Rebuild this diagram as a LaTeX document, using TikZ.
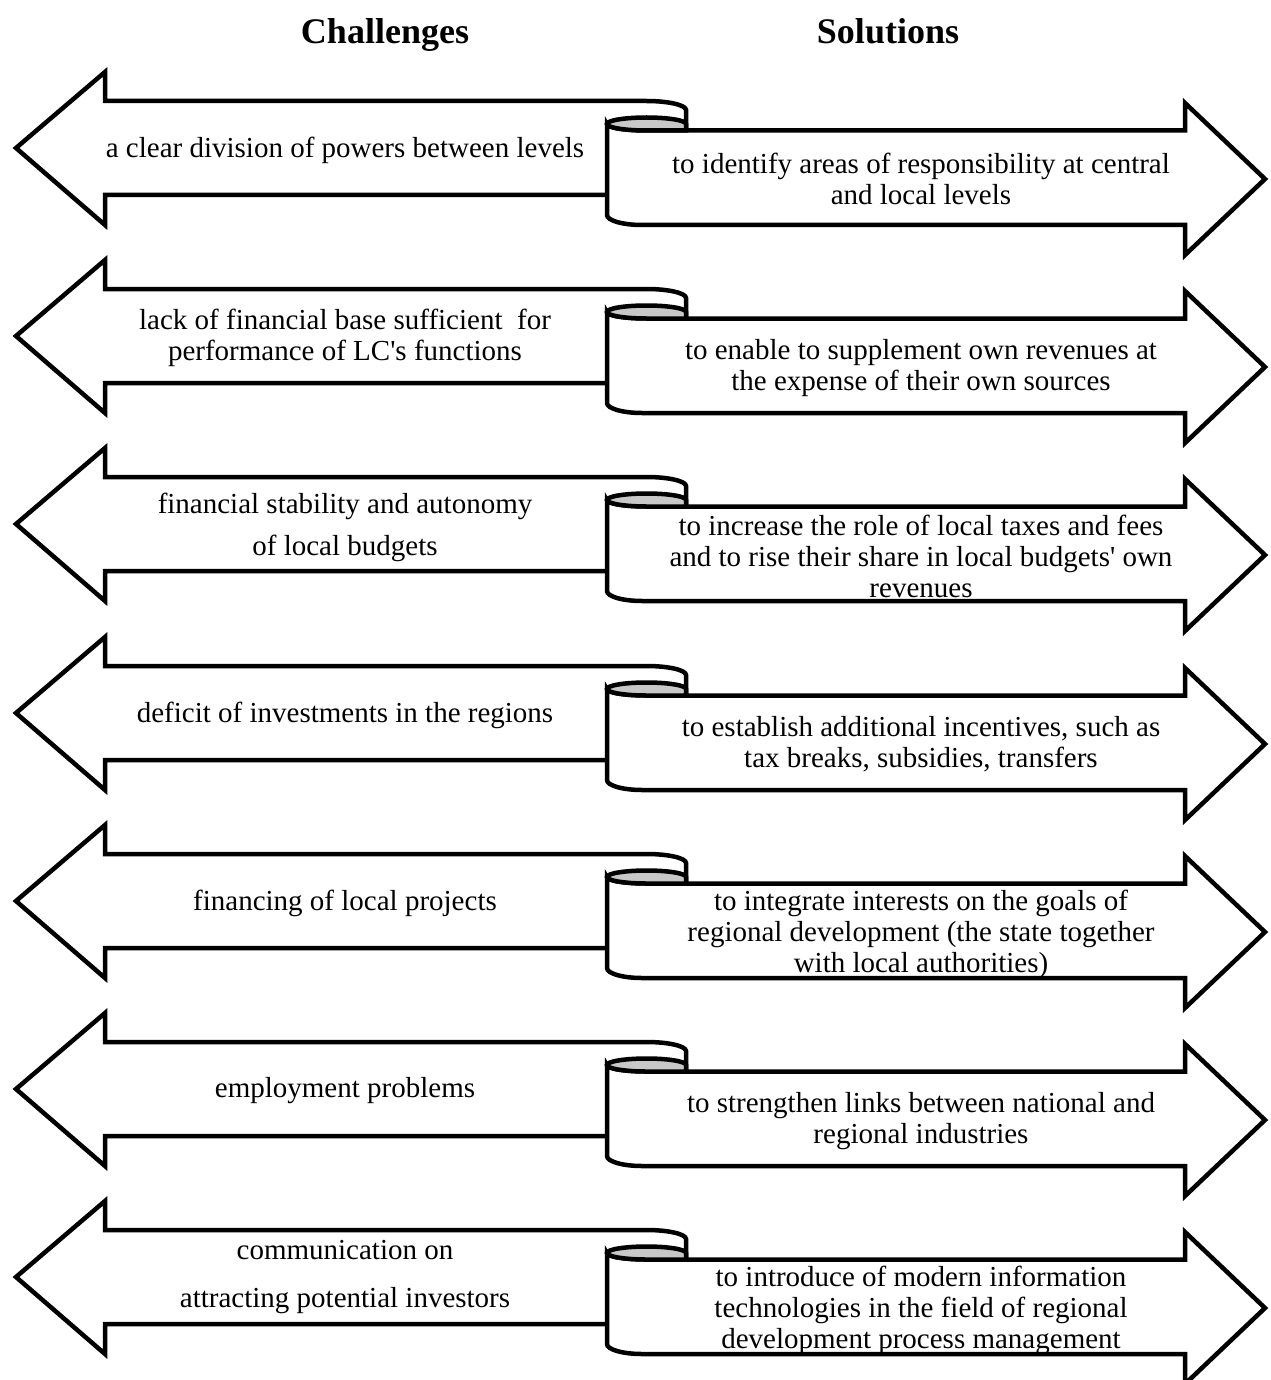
\documentclass[tikz,border=0pt]{standalone}
\usepackage{fontspec}
\setmainfont{Liberation Serif}[Ligatures=TeXOff]
\definecolor{curlgray}{RGB}{200,200,200}
\tikzset{
  outline/.style={line width=4.5pt, line join=miter, miter limit=10},
  bodytext/.style={align=center, font=\fontsize{29}{31}\selectfont, inner sep=0pt},
  headtext/.style={font=\fontsize{36}{40}\selectfont\bfseries, inner sep=0pt, anchor=base},
}
% #1 = y of the top edge of the left arrow's shaft (pixel units, downwards)
\newcommand{\scrollrow}[1]{%
  % left arrow (challenge)
  \fill[white] (16,#1+47) -- (105,#1-29) -- (105,#1) -- (646.5,#1)
    arc[start angle=90,end angle=0,x radius=39.5pt,y radius=9pt]
    -- (686,#1+94) -- (105,#1+94) -- (105,#1+124) -- cycle;
  \draw[outline] (630,#1+94) -- (105,#1+94) -- (105,#1+124) -- (16,#1+47)
    -- (105,#1-29) -- (105,#1) -- (646.5,#1)
    arc[start angle=90,end angle=0,x radius=39.5pt,y radius=9pt] -- (686,#1+29.5);
  % right arrow (solution)
  \draw[outline, fill=white] (607,#1+23) -- (607,#1+114)
    arc[start angle=180,end angle=270,x radius=35pt,y radius=10pt]
    -- (1185,#1+124) -- (1185,#1+154) -- (1265,#1+78) -- (1185,#1+2)
    -- (1185,#1+29.5) -- (646.5,#1+29.5)
    arc[start angle=270,end angle=180,x radius=39.5pt,y radius=6.5pt] -- cycle;
  % curl
  \draw[outline, fill=curlgray] (607,#1+23)
    arc[start angle=180,end angle=0,x radius=39.5pt,y radius=6.5pt]
    -- (686,#1+29.5) -- (646.5,#1+29.5)
    arc[start angle=270,end angle=180,x radius=39.5pt,y radius=6.5pt] -- cycle;
}
\begin{document}
\begin{tikzpicture}[x=1pt,y=-1pt]
\useasboundingbox (0,0) rectangle (1270,1380);

\node[headtext] (challenges) at (385,44) {Challenges};
\node[headtext] (solutions) at (888,44) {Solutions};

\scrollrow{101}
\scrollrow{289}
\scrollrow{477}
\scrollrow{666}
\scrollrow{854}
\scrollrow{1042}
\scrollrow{1230}

\node[bodytext] (c1) at (345,150) {a clear division of powers between levels};
\node[bodytext] (s1) at (921,179) {to identify areas of responsibility at central\\and local levels};

\node[bodytext] (c2) at (345,338) {lack of financial base sufficient\ \ for\\performance of LC's functions};
\node[bodytext] (s2) at (921,368) {to enable to supplement own revenues at\\the expense of their own sources};

\node[bodytext] (c3) at (345,527) {financial stability and autonomy\\[11pt]of local budgets};
\node[bodytext] (s3) at (921,556) {to increase the role of local taxes and fees\\and to rise their share in local budgets' own\\revenues};

\node[bodytext] (c4) at (345,715) {deficit of investments in the regions};
\node[bodytext] (s4) at (921,744) {to establish additional incentives, such as\\tax breaks, subsidies, transfers};

\node[bodytext] (c5) at (345,903) {financing of local projects};
\node[bodytext] (s5) at (921,934) {to integrate interests on the goals of\\regional development (the state together\\with local authorities)};

\node[bodytext] (c6) at (345,1091) {employment problems};
\node[bodytext] (s6) at (921,1121) {to strengthen links between national and\\regional industries};

\node[bodytext] (c7) at (345,1277) {communication on\\[17pt]attracting potential investors};
\node[bodytext] (s7) at (921,1310) {to introduce of modern information\\technologies in the field of regional\\development process management};
\end{tikzpicture}
\end{document}
